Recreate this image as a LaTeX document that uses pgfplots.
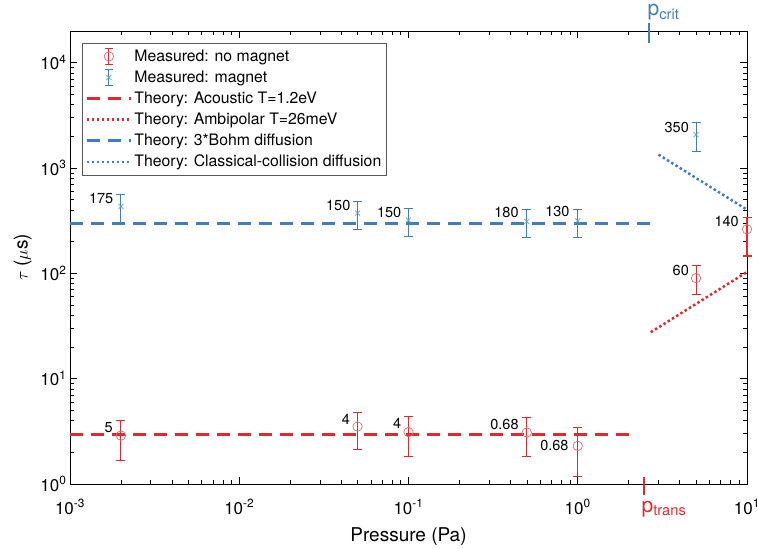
\documentclass[border=0pt]{standalone}
\usepackage{fontspec}
\setmainfont{TeX Gyre Heros}
\usepackage{pgfplots}
\pgfplotsset{compat=1.18}
\definecolor{myred}{RGB}{228,38,46}
\definecolor{myblue}{RGB}{62,126,190}
\definecolor{lred}{RGB}{240,100,106}
\definecolor{lblue}{RGB}{100,156,210}
\newcommand\lab[5]{\node[anchor=east, inner sep=0pt, font=\fontsize{14.5}{17}\selectfont] at (axis cs:#1,#2) [xshift=#3, yshift=#4] {#5};}
\begin{document}
\begin{tikzpicture}
\begin{axis}[
  scale only axis, width=677pt, height=453pt,
  xmode=log, ymode=log,
  xmin=1e-3, xmax=10, ymin=1, ymax=2e4,
  xtick={1e-3,1e-2,1e-1,1,10},
  xticklabels={10\textsuperscript{-3},10\textsuperscript{-2},10\textsuperscript{-1},10\textsuperscript{0},10\textsuperscript{1}},
  ytick={1,10,100,1000,10000},
  yticklabels={10\textsuperscript{0},10\textsuperscript{1},10\textsuperscript{2},10\textsuperscript{3},10\textsuperscript{4}},
  tick label style={font=\fontsize{17}{20}\selectfont},
  xticklabel style={yshift=-12pt},
  label style={font=\fontsize{19}{22}\selectfont},
  xlabel={Pressure (Pa)},
  xlabel style={yshift=-6pt},
  ylabel={$\tau$ ($\mu$s)},
  ylabel style={yshift=2pt},
  major tick length=7pt, minor tick length=4pt,
  tick style={black, line width=0.6pt},
  axis line style={line width=0.8pt},
  clip=false,
  legend cell align=left,
  legend style={at={(0.0177,0.9735)}, anchor=north west, draw=gray!70!black, line width=0.8pt,
    fill=white, font=\fontsize{15.8}{19}\selectfont, inner xsep=3pt, inner ysep=4.5pt,
    row sep=4pt, /tikz/every even column/.append style={column sep=4pt}},
  linelegend/.style={legend image code/.code={\path[draw=none,fill=none] (0pt,-8pt) rectangle (44pt,8pt); \draw[##1] (0pt,0pt) -- (44pt,0pt);}},
]
% Measured: no magnet
\addplot[color=myred, only marks, mark=o, mark size=4.7pt, mark options={draw=lred, line width=0.7pt},
  legend image code/.code={\path[draw=none,fill=none] (0pt,-8pt) rectangle (44pt,8pt);
    \draw[draw=myred, line width=1.1pt] (22pt,-8pt) -- (22pt,8pt) (18pt,-8pt) -- (26pt,-8pt) (18pt,8pt) -- (26pt,8pt);
    \draw[draw=lred, line width=0.7pt, fill=none] (22pt,0pt) circle (4.7pt);},
  error bars/.cd, y dir=both, y explicit,
  error bar style={draw=myred, line width=1.1pt},
  error mark options={rotate=90, draw=myred, mark size=4.5pt, line width=1.1pt}]
  table[x=x, y=y, y error plus=ep, y error minus=em] {
  x y ep em
  0.002 2.88 1.12 1.22
  0.05 3.51 1.31 1.37
  0.1 3.11 1.24 1.27
  0.5 3.08 1.24 1.27
  1 2.30 1.14 1.13
  5 90 28 27
  10 262 77 116
};
\addlegendentry{Measured: no magnet}
% Measured: magnet
\addplot[color=myblue, only marks, mark=x, mark size=3.5pt, mark options={draw=lblue, line width=0.7pt},
  legend image code/.code={\path[draw=none,fill=none] (0pt,-8pt) rectangle (44pt,8pt);
    \draw[draw=myblue, line width=1.1pt] (22pt,-8pt) -- (22pt,8pt) (18pt,-8pt) -- (26pt,-8pt) (18pt,8pt) -- (26pt,8pt);
    \draw[draw=lblue, line width=0.7pt] (19.5pt,-2.5pt) -- (24.5pt,2.5pt) (19.5pt,2.5pt) -- (24.5pt,-2.5pt);},
  error bars/.cd, y dir=both, y explicit,
  error bar style={draw=myblue, line width=1.1pt},
  error mark options={rotate=90, draw=myblue, mark size=4.5pt, line width=1.1pt}]
  table[x=x, y=y, y error plus=ep, y error minus=em] {
  x y ep em
  0.002 432 130 133
  0.05 373 109 112
  0.1 320 90 98
  0.5 311 96 92
  1 315 92 96
  5 2076 607 633
};
\addlegendentry{Measured: magnet}
\addplot[linelegend, myred, line width=3pt, dash pattern=on 13pt off 8pt] coordinates {(1e-3,2.97) (2.2,2.97)};
\addlegendentry{Theory: Acoustic T=1.2eV}
\addplot[linelegend, myred, line width=2.5pt, dash pattern=on 2.5pt off 2.5pt] coordinates {(2.7,27.6) (10,103)};
\addlegendentry{Theory: Ambipolar T=26meV}
\addplot[linelegend, myblue, line width=3pt, dash pattern=on 13pt off 8pt] coordinates {(1e-3,297) (2.9,297)};
\addlegendentry{Theory: 3*Bohm diffusion}
\addplot[linelegend, myblue, line width=2.5pt, dash pattern=on 2.5pt off 2.5pt] coordinates {(3,1340) (10,402)};
\addlegendentry{Theory: Classical-collision diffusion}
% labels
\lab{0.002}{432}{-7.5pt}{8pt}{175}
\lab{0.05}{373}{-7pt}{8pt}{150}
\lab{0.1}{320}{-7pt}{8pt}{150}
\lab{0.5}{311}{-8pt}{9pt}{180}
\lab{1}{315}{-8pt}{9pt}{130}
\lab{5}{2076}{-7pt}{7.5pt}{350}
\lab{0.002}{2.88}{-8pt}{8pt}{5}
\lab{0.05}{3.51}{-7.5pt}{7.5pt}{4}
\lab{0.1}{3.11}{-7pt}{9pt}{4}
\lab{0.5}{3.08}{-8pt}{8pt}{0.68}
\lab{1}{2.30}{-9pt}{0pt}{0.68}
\lab{5}{90}{-7pt}{7.5pt}{60}
\lab{10}{262}{-8pt}{7.5pt}{140}
% transition markers
\draw[myred, line width=1.8pt] ([yshift=7pt]axis cs:2.46,1) -- ([yshift=-11pt]axis cs:2.46,1);
\node[myred, anchor=base west, inner sep=0pt, font=\fontsize{21}{24}\selectfont] at ([xshift=-2.5pt, yshift=-28.5pt]axis cs:2.46,1) {p\textsubscript{trans}};
\draw[myblue, line width=1.8pt] ([yshift=8pt]axis cs:2.65,2e4) -- ([yshift=-12pt]axis cs:2.65,2e4);
\node[myblue, anchor=base west, inner sep=0pt, font=\fontsize{21}{24}\selectfont] at ([xshift=-2pt, yshift=15pt]axis cs:2.65,2e4) {p\textsubscript{crit}};
\end{axis}
\pgfresetboundingbox
\path[use as bounding box] (current axis.south west) ++(-70pt,-65pt) rectangle ++(758pt,549pt);
\end{tikzpicture}
\end{document}
